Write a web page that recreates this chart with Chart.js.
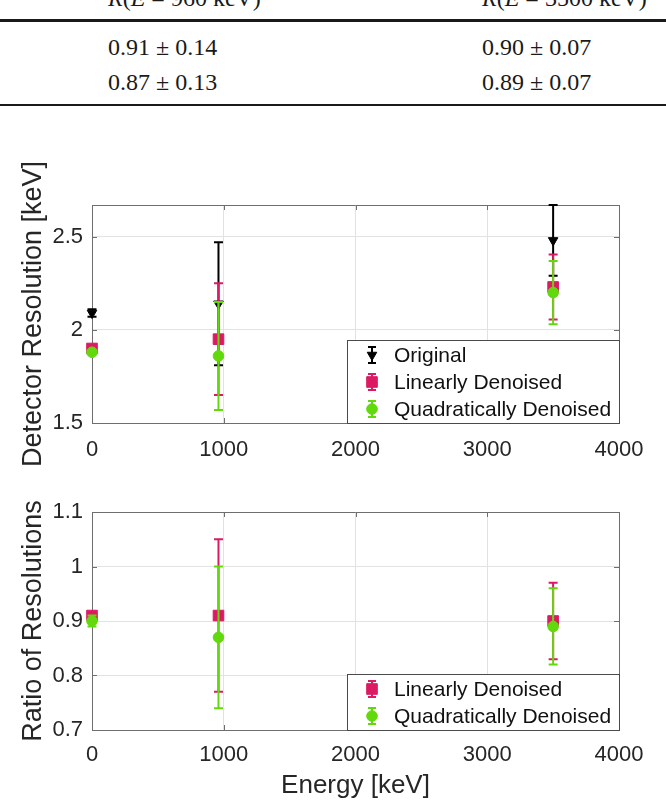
<!DOCTYPE html>
<html>
<head>
<meta charset="utf-8">
<title>Detector resolution</title>
<script src="https://cdn.jsdelivr.net/npm/chart.js@4.4.1/dist/chart.umd.min.js"></script>
<style>
    body { margin: 0; background: #fff; }
    #page { position: relative; width: 666px; height: 801px; overflow: hidden; background: #fff; }
    .cell { position: absolute; font-family: "Liberation Serif", "DejaVu Serif", serif; font-size: 24px;
            line-height: 24px; color: #1a1a1a; white-space: pre; }
    .rule { position: absolute; left: 0; width: 666px; background: #1a1a1a; }
    canvas { position: absolute; left: 0; }
</style>
</head>
<body>
<div id="page">
    <div class="cell" id="head0" style="left:108px; top:-14px"></div>
    <div class="cell" id="head1" style="left:482px; top:-14px"></div>
    <div class="rule" style="top:19px; height:3px"></div>
    <div class="cell" id="lin0" style="left:108px; top:35px"></div>
    <div class="cell" id="lin1" style="left:482px; top:35px"></div>
    <div class="cell" id="quad0" style="left:108px; top:70px"></div>
    <div class="cell" id="quad1" style="left:482px; top:70px"></div>
    <div class="rule" style="top:104px; height:2px"></div>

    <canvas id="cRes" width="666" height="350" style="top:130px"></canvas>
    <canvas id="cRatio" width="666" height="321" style="top:480px"></canvas>
</div>

<script>
"use strict"

// energie delle righe [keV]
const energies = [0, 960, 3500];
const xTicks = [0, 1000, 2000, 3000, 4000];

// risoluzione del rivelatore [keV] con errori
const resOriginal = [2.09, 2.14, 2.48];
const errOriginal = [0.02, 0.33, 0.19];
const resLinear = [1.90, 1.95, 2.23];
const errLinear = [0.01, 0.30, 0.175];
const resQuadratic = [1.88, 1.86, 2.20];
const errQuadratic = [0.01, 0.29, 0.17];
const resTicks = [1.5, 2, 2.5];

// rapporto tra risoluzioni (denoised / original)
const ratioLinear = [0.91, 0.91, 0.90];
const ratioErrLinear = [0.006, 0.14, 0.07];
const ratioQuadratic = [0.90, 0.87, 0.89];
const ratioErrQuadratic = [0.01, 0.13, 0.07];
const ratioTicks = [0.7, 0.8, 0.9, 1, 1.1];

const names = ["Original", "Linearly Denoised", "Quadratically Denoised"];

const BLACK = "#000000";
const PINK = "#DC1A64";
const GREEN = "#62D90C";
const AXIS = "#6e6e6e";
const GRID = "#e2e2e2";
const TEXT = "#262626";

// tabella sopra i grafici: colonne E = 960 e E = 3500
function pm(v, e) {
    return v.toFixed(2) + " \u00b1 " + e.toFixed(2);
}
document.getElementById("head0").innerHTML = "<i>R</i>(<i>E</i> = " + energies[1] + " keV)";
document.getElementById("head1").innerHTML = "<i>R</i>(<i>E</i> = " + energies[2] + " keV)";
document.getElementById("lin0").textContent = pm(ratioLinear[1], ratioErrLinear[1]);
document.getElementById("lin1").textContent = pm(ratioLinear[2], ratioErrLinear[2]);
document.getElementById("quad0").textContent = pm(ratioQuadratic[1], ratioErrQuadratic[1]);
document.getElementById("quad1").textContent = pm(ratioQuadratic[2], ratioErrQuadratic[2]);

Chart.defaults.font.family = "'Liberation Sans', Arial, sans-serif";
Chart.defaults.color = TEXT;
Chart.defaults.animation = false;

function serie(label, values, errors, color, style, radius, order) {
    return {
        label: label,
        data: values.map((v, i) => ({ x: energies[i], y: v })),
        errors: errors,
        backgroundColor: color,
        borderColor: color,
        pointStyle: style,
        pointRadius: radius,
        pointRotation: style === "triangle" ? 180 : 0,
        pointBorderWidth: 1,
        showLine: false,
        clip: false,
        order: order
    };
}

// barre d'errore disegnate sotto il marker di ogni serie
const errorBars = {
    id: "errorBars",
    beforeDatasetDraw(chart, args) {
        const ds = chart.data.datasets[args.index];
        if (!ds.errors) return;
        const ctx = chart.ctx;
        const sx = chart.scales.x, sy = chart.scales.y;
        ctx.save();
        ctx.strokeStyle = ds.borderColor;
        ctx.lineWidth = 2;
        ds.data.forEach((p, i) => {
            const px = sx.getPixelForValue(p.x);
            const top = sy.getPixelForValue(p.y + ds.errors[i]);
            const bot = sy.getPixelForValue(p.y - ds.errors[i]);
            ctx.beginPath();
            ctx.moveTo(px, top); ctx.lineTo(px, bot);
            ctx.moveTo(px - 4.5, top); ctx.lineTo(px + 4.5, top);
            ctx.moveTo(px - 4.5, bot); ctx.lineTo(px + 4.5, bot);
            ctx.stroke();
        });
        ctx.restore();
    }
};

// cornice chiusa e tacche verso l'interno
const frame = {
    id: "frame",
    beforeDatasetsDraw(chart) {
        const ctx = chart.ctx, a = chart.chartArea;
        const sx = chart.scales.x, sy = chart.scales.y;
        ctx.save();
        ctx.strokeStyle = AXIS;
        ctx.lineWidth = 1;
        ctx.beginPath();
        ctx.moveTo(a.left, Math.round(a.top) + 0.5);
        ctx.lineTo(a.right, Math.round(a.top) + 0.5);
        ctx.moveTo(Math.round(a.right) + 0.5, a.top);
        ctx.lineTo(Math.round(a.right) + 0.5, a.bottom);
        sx.ticks.forEach(t => {
            const x = Math.round(sx.getPixelForValue(t.value)) + 0.5;
            ctx.moveTo(x, a.bottom); ctx.lineTo(x, a.bottom - 5);
            ctx.moveTo(x, a.top); ctx.lineTo(x, a.top + 5);
        });
        sy.ticks.forEach(t => {
            const y = Math.round(sy.getPixelForValue(t.value)) + 0.5;
            ctx.moveTo(a.left, y); ctx.lineTo(a.left + 5, y);
            ctx.moveTo(a.right, y); ctx.lineTo(a.right - 5, y);
        });
        ctx.stroke();
        ctx.restore();
    }
};

// legenda con cornice nell'angolo in basso a destra
const boxLegend = {
    id: "boxLegend",
    afterDraw(chart) {
        const ctx = chart.ctx, a = chart.chartArea;
        const sets = chart.data.datasets;
        const w = 272, rowH = 27;
        const h = rowH * sets.length + 2;
        const left = Math.round(a.right) - w, top = Math.round(a.bottom) - h;
        ctx.save();
        ctx.fillStyle = "#fff";
        ctx.fillRect(left, top, w, h);
        ctx.strokeStyle = "#4a4a4a";
        ctx.lineWidth = 1;
        ctx.strokeRect(left + 0.5, top + 0.5, w, h);
        sets.forEach((ds, i) => {
            const cx = left + 25, cy = top + 15 + i * rowH;
            ctx.strokeStyle = ds.borderColor;
            ctx.fillStyle = ds.backgroundColor;
            ctx.lineWidth = 2;
            ctx.beginPath();
            ctx.moveTo(cx, cy - 8); ctx.lineTo(cx, cy + 8);
            ctx.moveTo(cx - 4, cy - 8); ctx.lineTo(cx + 4, cy - 8);
            ctx.moveTo(cx - 4, cy + 8); ctx.lineTo(cx + 4, cy + 8);
            ctx.stroke();
            ctx.lineWidth = 1;
            Chart.helpers.drawPoint(ctx, {
                pointStyle: ds.pointStyle,
                radius: ds.pointRadius,
                rotation: ds.pointRotation,
                borderWidth: 1
            }, cx, cy);
            ctx.fillStyle = "#111";
            ctx.font = "21px 'Liberation Sans', Arial, sans-serif";
            ctx.textAlign = "left";
            ctx.textBaseline = "middle";
            ctx.fillText(ds.label, left + 47, cy + 1);
        });
        ctx.restore();
    }
};

function makeScales(yTicks, yMin, yMax, yTitle, xTitle, xHeight, xPad) {
    return {
        x: {
            type: "linear",
            min: 0,
            max: 4000,
            afterBuildTicks: s => { s.ticks = xTicks.map(v => ({ value: v })); },
            afterFit: s => { s.height = xHeight; },
            grid: { color: GRID, drawTicks: false },
            border: { color: AXIS },
            ticks: { padding: xPad, font: { size: 22 }, maxRotation: 0, autoSkip: false,
                     callback: v => String(v) },
            title: { display: xTitle !== "", text: xTitle, font: { size: 26 },
                     padding: { top: 0, bottom: 0 } }
        },
        y: {
            type: "linear",
            min: yMin,
            max: yMax,
            afterBuildTicks: s => { s.ticks = yTicks.map(v => ({ value: v })); },
            afterFit: s => { s.width = 92; },
            grid: { color: GRID, drawTicks: false },
            border: { color: AXIS },
            ticks: { padding: 9, font: { size: 22 }, autoSkip: false,
                     callback: v => String(v) },
            title: { display: true, text: yTitle, font: { size: 27 },
                     padding: { top: 17, bottom: 0 } }
        }
    };
}

const baseOptions = {
    responsive: false,
    devicePixelRatio: 1,
    events: [],
    plugins: { legend: { display: false }, tooltip: { enabled: false } }
};

new Chart(document.getElementById("cRes"), {
    type: "scatter",
    data: {
        datasets: [
            serie(names[0], resOriginal, errOriginal, BLACK, "triangle", 5.5, 3),
            serie(names[1], resLinear, errLinear, PINK, "rect", 7.5, 2),
            serie(names[2], resQuadratic, errQuadratic, GREEN, "circle", 5.3, 1)
        ]
    },
    options: Object.assign({}, baseOptions, {
        layout: { padding: { top: 75, right: 47, left: 0, bottom: 0 } },
        scales: makeScales(resTicks, 1.5, 2.67, "Detector Resolution [keV]", "", 57, 14)
    }),
    plugins: [frame, errorBars, boxLegend]
});

new Chart(document.getElementById("cRatio"), {
    type: "scatter",
    data: {
        datasets: [
            serie(names[1], ratioLinear, ratioErrLinear, PINK, "rect", 7.5, 2),
            serie(names[2], ratioQuadratic, ratioErrQuadratic, GREEN, "circle", 5.3, 1)
        ]
    },
    options: Object.assign({}, baseOptions, {
        layout: { padding: { top: 32, right: 47, left: 0, bottom: 0 } },
        scales: makeScales(ratioTicks, 0.7, 1.1, "Ratio of Resolutions", "Energy [keV]", 71, 12)
    }),
    plugins: [frame, errorBars, boxLegend]
});
</script>
</body>
</html>
